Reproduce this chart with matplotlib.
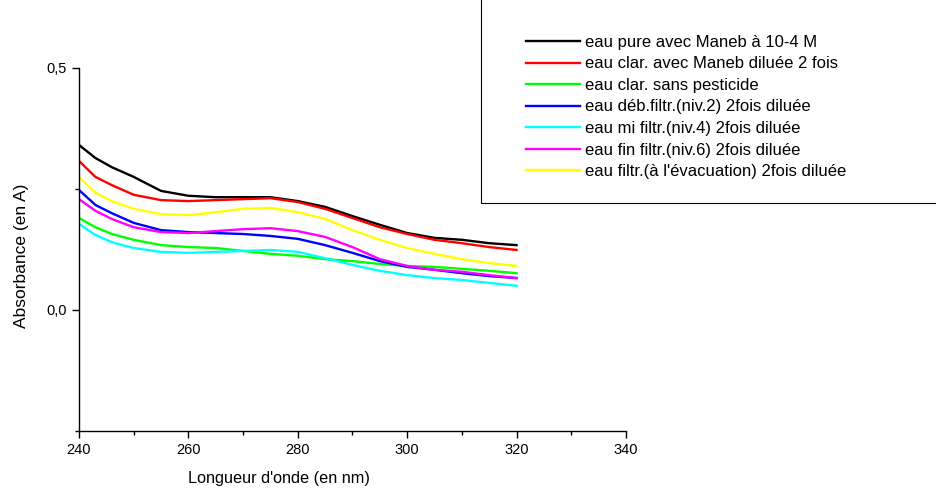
import numpy as np
import matplotlib.pyplot as plt
from matplotlib.patches import Rectangle
from matplotlib.ticker import MultipleLocator, FuncFormatter

plt.rcParams['font.family'] = ['Liberation Sans', 'DejaVu Sans']

# wavelength grid (nm)
wl = [240, 243, 246, 250, 255, 260, 265, 270, 275, 280, 285, 290, 295, 300, 305, 310, 315, 320]

# absorbance values
a_pure = [0.341, 0.314, 0.295, 0.275, 0.246, 0.236, 0.233, 0.233, 0.233, 0.225, 0.213, 0.194, 0.176, 0.159, 0.149, 0.145, 0.138, 0.134]
a_clar = [0.308, 0.275, 0.258, 0.238, 0.227, 0.225, 0.227, 0.229, 0.231, 0.223, 0.209, 0.190, 0.171, 0.157, 0.145, 0.138, 0.130, 0.124]
a_sans = [0.190, 0.171, 0.157, 0.145, 0.134, 0.130, 0.128, 0.122, 0.116, 0.112, 0.105, 0.101, 0.095, 0.091, 0.089, 0.085, 0.081, 0.076]
a_deb = [0.248, 0.217, 0.200, 0.180, 0.165, 0.161, 0.159, 0.157, 0.153, 0.147, 0.134, 0.118, 0.101, 0.089, 0.083, 0.076, 0.070, 0.066]
a_mi = [0.178, 0.155, 0.140, 0.128, 0.120, 0.118, 0.120, 0.122, 0.124, 0.120, 0.107, 0.093, 0.081, 0.072, 0.066, 0.062, 0.056, 0.050]
a_fin = [0.229, 0.205, 0.188, 0.171, 0.161, 0.159, 0.163, 0.167, 0.169, 0.163, 0.151, 0.130, 0.105, 0.091, 0.083, 0.079, 0.072, 0.066]
a_evac = [0.275, 0.242, 0.225, 0.209, 0.198, 0.196, 0.202, 0.209, 0.211, 0.202, 0.188, 0.165, 0.145, 0.128, 0.116, 0.105, 0.097, 0.091]

labels = ["eau pure avec Maneb à 10-4 M",
          "eau clar. avec Maneb diluée 2 fois",
          "eau clar. sans pesticide",
          "eau déb.filtr.(niv.2) 2fois diluée",
          "eau mi filtr.(niv.4) 2fois diluée",
          "eau fin filtr.(niv.6) 2fois diluée",
          "eau filtr.(à l'évacuation) 2fois diluée"]
colors = ['black', 'red', '#00ff00', 'blue', 'cyan', 'magenta', 'yellow']
series = [a_pure, a_clar, a_sans, a_deb, a_mi, a_fin, a_evac]

fig = plt.figure(figsize=(9.37, 4.88), dpi=100)
ax = fig.add_axes([0.0843, 0.1168, 0.5837, 0.7439])

handles = []
for y, c, lab in zip(series, colors, labels):
    h, = ax.plot(wl, y, color=c, lw=1.7, label=lab)
    handles.append(h)

ax.set_xlim(240, 340)
ax.set_ylim(-0.25, 0.5)
ax.xaxis.set_major_locator(MultipleLocator(20))
ax.xaxis.set_minor_locator(MultipleLocator(10))
ax.yaxis.set_major_locator(MultipleLocator(0.5))
ax.yaxis.set_minor_locator(MultipleLocator(0.25))
ax.yaxis.set_major_formatter(FuncFormatter(lambda v, p: f"{v:.1f}".replace('.', ',')))
ax.tick_params(which='major', direction='out', length=5, width=1, labelsize=10.5)
ax.tick_params(which='minor', direction='out', length=3, width=1)
for s in ['top', 'right']:
    ax.spines[s].set_visible(False)
ax.spines['left'].set_linewidth(1)
ax.spines['bottom'].set_linewidth(1)

ax.set_xlabel("Longueur d'onde (en nm)", fontsize=11.7)
ax.xaxis.set_label_coords(0.366, -0.11)
ax.set_ylabel("Absorbance (en A)", fontsize=12.5)
ax.yaxis.set_label_coords(-0.092, 0.482)

# legend frame, cut by the figure edge
fig.patches.append(Rectangle((481 / 937, 1 - 203 / 488), 0.6, 0.6, transform=fig.transFigure,
                             fill=False, edgecolor='black', lw=0.8))
fig.legend(handles=handles, loc='upper left', bbox_to_anchor=(526 / 937, 1 - 35 / 488),
           frameon=False, fontsize=12, handlelength=3.25, handletextpad=0.3,
           labelspacing=0.39, borderaxespad=0, borderpad=0)

fig.savefig('out.png', dpi=100)
